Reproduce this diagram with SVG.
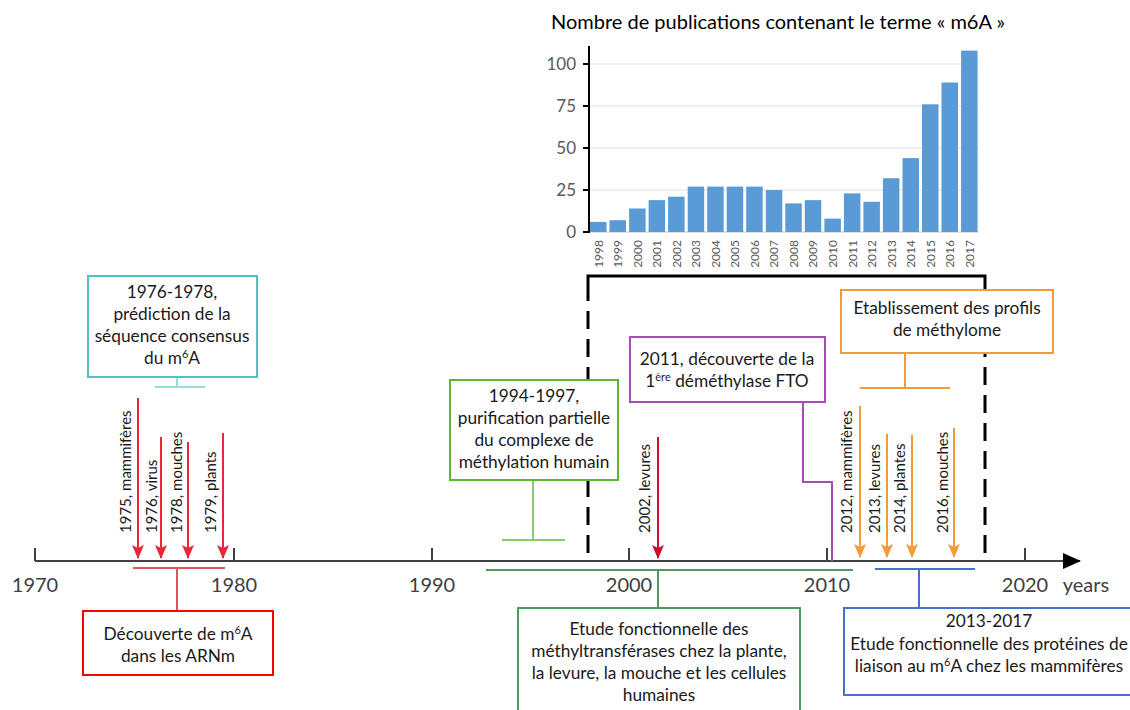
<svg xmlns="http://www.w3.org/2000/svg" width="1130" height="710" viewBox="0 0 1130 710">
<style>
text{font-family:Lato,"Liberation Sans",sans-serif;}
.bt{font-size:17.3px;fill:#1a1a1a;text-anchor:middle;}
.yr{font-size:20px;fill:#404040;text-anchor:middle;}
.al{font-size:15px;fill:#1a1a1a;}
.cy{font-size:12px;fill:#595959;text-anchor:end;}
.ct{font-size:17px;fill:#595959;text-anchor:end;}
.bar{fill:#5B9BD5;}
.grid{stroke:#EBEBEB;stroke-width:1.5;}
.box{fill:#fff;stroke-width:2;}
.dash{stroke:#000;stroke-width:3;stroke-dasharray:18 10;fill:none;}
</style>
<defs>
<marker id="ahR" markerWidth="14" markerHeight="14" viewBox="0 -7 14 14" refX="13" refY="0" orient="auto" markerUnits="userSpaceOnUse"><path d="M0,-6 L14,0 L0,6 L3,0 z" fill="#E8283A"/></marker>
<marker id="ahC" markerWidth="14" markerHeight="14" viewBox="0 -7 14 14" refX="13" refY="0" orient="auto" markerUnits="userSpaceOnUse"><path d="M0,-6 L14,0 L0,6 L3,0 z" fill="#C8102E"/></marker>
<marker id="ahO" markerWidth="14" markerHeight="14" viewBox="0 -7 14 14" refX="13" refY="0" orient="auto" markerUnits="userSpaceOnUse"><path d="M0,-6 L14,0 L0,6 L3,0 z" fill="#F39A3A"/></marker>
<marker id="ahK" markerWidth="18" markerHeight="18" viewBox="0 -9 18 18" refX="17" refY="0" orient="auto" markerUnits="userSpaceOnUse"><path d="M0,-8 L18,0 L0,8 z" fill="#000"/></marker>
</defs>

<g id="chart">
<text x="778" y="29" style="font-size:20px;fill:#000;text-anchor:middle">Nombre de publications contenant le terme « m6A »</text>
<line class="grid" x1="589" y1="64" x2="979" y2="64"/>
<line class="grid" x1="589" y1="106" x2="979" y2="106"/>
<line class="grid" x1="589" y1="148" x2="979" y2="148"/>
<line class="grid" x1="589" y1="190" x2="979" y2="190"/>
<line x1="589" y1="232" x2="979" y2="232" stroke="#D9D9D9" stroke-width="1.5"/>
<g class="bar">
<rect x="590.0" y="221.9" width="16.5" height="10.1"/>
<rect x="609.5" y="220.2" width="16.5" height="11.8"/>
<rect x="629.1" y="208.5" width="16.5" height="23.5"/>
<rect x="648.6" y="200.1" width="16.5" height="31.9"/>
<rect x="668.1" y="196.7" width="16.5" height="35.3"/>
<rect x="687.7" y="186.6" width="16.5" height="45.4"/>
<rect x="707.2" y="186.6" width="16.5" height="45.4"/>
<rect x="726.7" y="186.6" width="16.5" height="45.4"/>
<rect x="746.2" y="186.6" width="16.5" height="45.4"/>
<rect x="765.8" y="190.0" width="16.5" height="42.0"/>
<rect x="785.3" y="203.4" width="16.5" height="28.6"/>
<rect x="804.8" y="200.1" width="16.5" height="31.9"/>
<rect x="824.4" y="218.6" width="16.5" height="13.4"/>
<rect x="843.9" y="193.4" width="16.5" height="38.6"/>
<rect x="863.4" y="201.8" width="16.5" height="30.2"/>
<rect x="882.9" y="178.2" width="16.5" height="53.8"/>
<rect x="902.5" y="158.1" width="16.5" height="73.9"/>
<rect x="922.0" y="104.3" width="16.5" height="127.7"/>
<rect x="941.5" y="82.5" width="16.5" height="149.5"/>
<rect x="961.1" y="50.6" width="16.5" height="181.4"/>
</g>
<line x1="589" y1="46" x2="589" y2="233" stroke="#000" stroke-width="2"/>
<g stroke="#000" stroke-width="2">
<line x1="583" y1="64" x2="589" y2="64"/><line x1="583" y1="106" x2="589" y2="106"/><line x1="583" y1="148" x2="589" y2="148"/><line x1="583" y1="190" x2="589" y2="190"/><line x1="583" y1="232" x2="589" y2="232"/>
</g>
<text class="ct" x="576" y="70">100</text>
<text class="ct" x="576" y="112">75</text>
<text class="ct" x="576" y="154">50</text>
<text class="ct" x="576" y="196">25</text>
<text class="ct" x="576" y="238">0</text>
<text class="cy" transform="translate(602.6,240) rotate(-90)">1998</text>
<text class="cy" transform="translate(622.1,240) rotate(-90)">1999</text>
<text class="cy" transform="translate(641.7,240) rotate(-90)">2000</text>
<text class="cy" transform="translate(661.2,240) rotate(-90)">2001</text>
<text class="cy" transform="translate(680.7,240) rotate(-90)">2002</text>
<text class="cy" transform="translate(700.3,240) rotate(-90)">2003</text>
<text class="cy" transform="translate(719.8,240) rotate(-90)">2004</text>
<text class="cy" transform="translate(739.3,240) rotate(-90)">2005</text>
<text class="cy" transform="translate(758.8,240) rotate(-90)">2006</text>
<text class="cy" transform="translate(778.4,240) rotate(-90)">2007</text>
<text class="cy" transform="translate(797.9,240) rotate(-90)">2008</text>
<text class="cy" transform="translate(817.4,240) rotate(-90)">2009</text>
<text class="cy" transform="translate(837.0,240) rotate(-90)">2010</text>
<text class="cy" transform="translate(856.5,240) rotate(-90)">2011</text>
<text class="cy" transform="translate(876.0,240) rotate(-90)">2012</text>
<text class="cy" transform="translate(895.5,240) rotate(-90)">2013</text>
<text class="cy" transform="translate(915.1,240) rotate(-90)">2014</text>
<text class="cy" transform="translate(934.6,240) rotate(-90)">2015</text>
<text class="cy" transform="translate(954.1,240) rotate(-90)">2016</text>
<text class="cy" transform="translate(973.7,240) rotate(-90)">2017</text>
</g>

<g id="axis">
<line x1="35" y1="561" x2="1080" y2="561" stroke="#404040" stroke-width="2" marker-end="url(#ahK)"/>
<g stroke="#404040" stroke-width="2">
<line x1="35" y1="548" x2="35" y2="561"/><line x1="234" y1="548" x2="234" y2="561"/><line x1="432" y1="548" x2="432" y2="561"/><line x1="629" y1="548" x2="629" y2="561"/><line x1="827" y1="548" x2="827" y2="561"/><line x1="1025" y1="548" x2="1025" y2="561"/>
</g>
<text class="yr" x="35" y="592">1970</text>
<text class="yr" x="234" y="592">1980</text>
<text class="yr" x="432" y="592">1990</text>
<text class="yr" x="629" y="592">2000</text>
<text class="yr" x="827" y="592">2010</text>
<text class="yr" x="1025" y="592">2020</text>
<text class="yr" x="1086" y="592">years</text>
</g>

<g id="connectors">
<path d="M588,301 V276 H985 V301" stroke="#000" stroke-width="3" fill="none"/>
<path class="dash" d="M588,311 V555 M985,311 V555"/>
<path d="M177,377 V387 M155,387 H205" stroke="#9ADCDC" stroke-width="2" fill="none"/>
<g stroke="#E8283A" stroke-width="2">
<line x1="138" y1="398" x2="138" y2="558" marker-end="url(#ahR)"/>
<line x1="161" y1="437" x2="161" y2="558" marker-end="url(#ahR)"/>
<line x1="188" y1="442" x2="188" y2="558" marker-end="url(#ahR)"/>
<line x1="223" y1="433" x2="223" y2="558" marker-end="url(#ahR)"/>
</g>
<path d="M133,568 H225 M177,568 V611" stroke="#E0525F" stroke-width="2" fill="none"/>
<path d="M533,480 V540 M502,540 H565" stroke="#8CCB6A" stroke-width="2" fill="none"/>
<line x1="658" y1="437" x2="658" y2="558" stroke="#C8102E" stroke-width="2" marker-end="url(#ahC)"/>
<path d="M803,402 V482 H832 V561" stroke="#A64CB5" stroke-width="2" fill="none"/>
<path d="M905,353 V388 M860,388 H950" stroke="#F39A3A" stroke-width="2" fill="none"/>
<g stroke="#F39A3A" stroke-width="2">
<line x1="860" y1="406" x2="860" y2="557" marker-end="url(#ahO)"/>
<line x1="887" y1="434" x2="887" y2="557" marker-end="url(#ahO)"/>
<line x1="912" y1="435" x2="912" y2="557" marker-end="url(#ahO)"/>
<line x1="954" y1="428" x2="954" y2="557" marker-end="url(#ahO)"/>
</g>
<path d="M486,570 H853 M658,570 V608" stroke="#4E9A5A" stroke-width="2" fill="none"/>
<path d="M875,569 H975 M919,569 V608" stroke="#4472C4" stroke-width="2" fill="none"/>
</g>

<g id="labels">
<text class="al" transform="translate(131,533) rotate(-90)">1975, mammifères</text>
<text class="al" transform="translate(157,533) rotate(-90)">1976, virus</text>
<text class="al" transform="translate(182,533) rotate(-90)">1978, mouches</text>
<text class="al" transform="translate(216,533) rotate(-90)">1979, plants</text>
<text class="al" transform="translate(650,533) rotate(-90)">2002, levures</text>
<text class="al" transform="translate(852,533) rotate(-90)">2012, mammifères</text>
<text class="al" transform="translate(880,533) rotate(-90)">2013, levures</text>
<text class="al" transform="translate(905,533) rotate(-90)">2014, plantes</text>
<text class="al" transform="translate(948,533) rotate(-90)">2016, mouches</text>
</g>

<g id="box-prediction">
<rect class="box" x="88" y="276" width="169" height="101" stroke="#4FC1C1"/>
<text class="bt" x="172" y="298">1976-1978,</text>
<text class="bt" x="172" y="320">prédiction de la</text>
<text class="bt" x="172" y="342">séquence consensus</text>
<text class="bt" x="172" y="364">du m<tspan dy="-6" font-size="11">6</tspan><tspan dy="6">A</tspan></text>
</g>

<g id="box-decouverte">
<rect class="box" x="83" y="611" width="190" height="64" stroke="#FF0000"/>
<text class="bt" x="178" y="640">Découverte de m<tspan dy="-6" font-size="11">6</tspan><tspan dy="6">A</tspan></text>
<text class="bt" x="178" y="662">dans les ARNm</text>
</g>

<g id="box-purification">
<rect class="box" x="450" y="380" width="168" height="100" stroke="#5CB82E"/>
<text class="bt" x="534" y="402">1994-1997,</text>
<text class="bt" x="534" y="424">purification partielle</text>
<text class="bt" x="534" y="446">du complexe de</text>
<text class="bt" x="534" y="468">méthylation humain</text>
</g>

<g id="box-fto">
<rect class="box" x="630" y="337" width="195" height="65" stroke="#A64CB5"/>
<text class="bt" x="727" y="365">2011, découverte de la</text>
<text class="bt" x="727" y="387">1<tspan dy="-6" font-size="11">ère</tspan><tspan dy="6"> déméthylase FTO</tspan></text>
</g>

<g id="box-methylome">
<rect class="box" x="841" y="290" width="212" height="63" stroke="#F39A3A"/>
<text class="bt" x="947" y="314">Etablissement des profils</text>
<text class="bt" x="947" y="336">de méthylome</text>
</g>

<g id="box-methyltransferases">
<rect class="box" x="518" y="608" width="282" height="106" stroke="#4E9A5A"/>
<text class="bt" x="659" y="635">Etude fonctionnelle des</text>
<text class="bt" x="659" y="657">méthyltransférases chez la plante,</text>
<text class="bt" x="659" y="679">la levure, la mouche et les cellules</text>
<text class="bt" x="659" y="701">humaines</text>
</g>

<g id="box-proteines">
<rect class="box" x="844" y="608" width="292" height="87" stroke="#4472C4"/>
<text class="bt" x="989" y="627">2013-2017</text>
<text class="bt" x="989" y="650">Etude fonctionnelle des protéines de</text>
<text class="bt" x="989" y="672">liaison au m<tspan dy="-6" font-size="11">6</tspan><tspan dy="6">A chez les mammifères</tspan></text>
</g>
</svg>
